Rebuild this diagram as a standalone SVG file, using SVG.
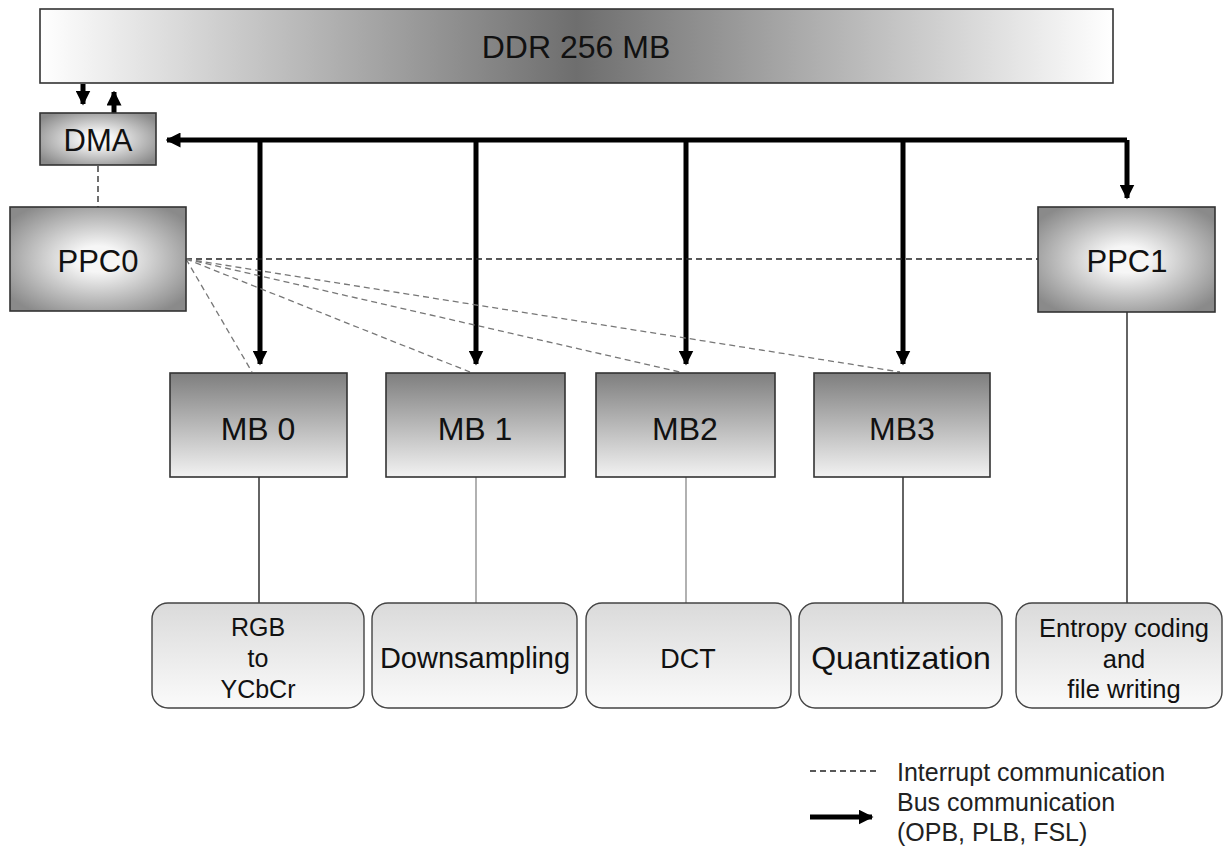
<svg xmlns="http://www.w3.org/2000/svg" width="1224" height="849" viewBox="0 0 1224 849">
<defs>
<linearGradient id="gDDR" x1="0" y1="0" x2="1" y2="0">
<stop offset="0" stop-color="#ffffff"/>
<stop offset="0.5" stop-color="#6e6e6e"/>
<stop offset="1" stop-color="#ffffff"/>
</linearGradient>
<radialGradient id="gPPC" cx="0.5" cy="0.5" r="0.62">
<stop offset="0.2" stop-color="#f6f6f6"/>
<stop offset="1" stop-color="#8a8a8a"/>
</radialGradient>
<linearGradient id="gMB" x1="0" y1="0" x2="0" y2="1">
<stop offset="0" stop-color="#7e7e7e"/>
<stop offset="1" stop-color="#f2f2f2"/>
</linearGradient>
<linearGradient id="gTask" x1="0" y1="0" x2="0" y2="1">
<stop offset="0" stop-color="#dadada"/>
<stop offset="1" stop-color="#fbfbfb"/>
</linearGradient>
<marker id="ah" viewBox="0 0 10 10" refX="9" refY="5" markerWidth="3" markerHeight="3" orient="auto" markerUnits="strokeWidth">
<path d="M0,0 L10,5 L0,10 z" fill="#000"/>
</marker>
</defs>
<style>
.box{stroke:#333;stroke-width:1.6}
.task{fill:url(#gTask);stroke:#444;stroke-width:1.4}
.t{font-family:"Liberation Sans",Arial,sans-serif;fill:#111;text-anchor:middle}
.bus{stroke:#000;stroke-width:5;fill:none}
.irq{stroke:#222;stroke-width:1.3;stroke-dasharray:6,4;fill:none}
.irqg{stroke:#777;stroke-width:1.3;stroke-dasharray:6,4;fill:none}
.thin{stroke:#111;stroke-width:1.3;fill:none}
.thing{stroke:#888;stroke-width:1.3;fill:none}
.lg{font-family:"Liberation Sans",Arial,sans-serif;fill:#222;font-size:25px}
</style>
<rect width="1224" height="849" fill="#fff"/>

<g id="connectors">
<path class="bus" d="M83,84 V104" marker-end="url(#ah)"/>
<path class="bus" d="M114,113 V92" marker-end="url(#ah)"/>
<path class="bus" d="M1127,140 H167" marker-end="url(#ah)"/>
<path class="bus" d="M1127,140 V198" marker-end="url(#ah)"/>
<path class="bus" d="M260,140 V364" marker-end="url(#ah)"/>
<path class="bus" d="M476,140 V364" marker-end="url(#ah)"/>
<path class="bus" d="M686,140 V364" marker-end="url(#ah)"/>
<path class="bus" d="M903,140 V364" marker-end="url(#ah)"/>
<path class="irq" d="M98,166 V207"/>
<path class="irq" d="M186,259 H1038"/>
<path class="irqg" d="M186,259 L252,372"/>
<path class="irqg" d="M186,259 L470,372"/>
<path class="irqg" d="M186,259 L680,372"/>
<path class="irqg" d="M186,259 L900,372"/>
<path class="thin" d="M259,477 V603"/>
<path class="thing" d="M476,477 V603"/>
<path class="thing" d="M686,477 V603"/>
<path class="thin" d="M903,477 V603"/>
<path class="thin" d="M1127,312 V603"/>
</g>

<g id="ddr">
<rect class="box" x="40" y="9" width="1073" height="74" fill="url(#gDDR)"/>
<text class="t" x="576" y="58" font-size="32">DDR 256 MB</text>
</g>
<g id="dma">
<rect class="box" x="40" y="113" width="116" height="52" fill="url(#gPPC)"/>
<text class="t" x="98" y="151" font-size="31">DMA</text>
</g>
<g id="ppc0">
<rect class="box" x="10" y="207" width="176" height="104" fill="url(#gPPC)"/>
<text class="t" x="98" y="272" font-size="31">PPC0</text>
</g>
<g id="ppc1">
<rect class="box" x="1038" y="207" width="177" height="105" fill="url(#gPPC)"/>
<text class="t" x="1127" y="272" font-size="31">PPC1</text>
</g>
<g id="mb0">
<rect class="box" x="170" y="373" width="177" height="104" fill="url(#gMB)"/>
<text class="t" x="258" y="440" font-size="32">MB 0</text>
</g>
<g id="mb1">
<rect class="box" x="386" y="373" width="179" height="104" fill="url(#gMB)"/>
<text class="t" x="475" y="440" font-size="32">MB 1</text>
</g>
<g id="mb2">
<rect class="box" x="596" y="373" width="179" height="104" fill="url(#gMB)"/>
<text class="t" x="685" y="440" font-size="32">MB2</text>
</g>
<g id="mb3">
<rect class="box" x="814" y="373" width="176" height="104" fill="url(#gMB)"/>
<text class="t" x="902" y="440" font-size="32">MB3</text>
</g>
<g id="rgb">
<rect class="task" x="152" y="603" width="212" height="105" rx="16"/>
<text class="t" x="258" y="636" font-size="25">RGB</text>
<text class="t" x="258" y="667" font-size="25">to</text>
<text class="t" x="258" y="698" font-size="25">YCbCr</text>
</g>
<g id="downsampling">
<rect class="task" x="372" y="603" width="205" height="105" rx="16"/>
<text class="t" x="475" y="668" font-size="29">Downsampling</text>
</g>
<g id="dct">
<rect class="task" x="586" y="603" width="205" height="105" rx="16"/>
<text class="t" x="688" y="668" font-size="27">DCT</text>
</g>
<g id="quantization">
<rect class="task" x="799" y="603" width="203" height="105" rx="16"/>
<text class="t" x="901" y="669" font-size="32">Quantization</text>
</g>
<g id="entropy">
<rect class="task" x="1016" y="603" width="206" height="105" rx="16"/>
<text class="t" x="1124" y="637" font-size="25.5">Entropy coding</text>
<text class="t" x="1124" y="668" font-size="25.5">and</text>
<text class="t" x="1124" y="698" font-size="25.5">file writing</text>
</g>

<g id="legend">
<path class="irq" d="M810,771 H877" stroke-dasharray="5,3"/>
<text class="lg" x="897" y="781">Interrupt communication</text>
<path class="bus" d="M810,817 H872" marker-end="url(#ah)"/>
<text class="lg" x="897" y="811">Bus communication</text>
<text class="lg" x="897" y="841">(OPB, PLB, FSL)</text>
</g>
</svg>
